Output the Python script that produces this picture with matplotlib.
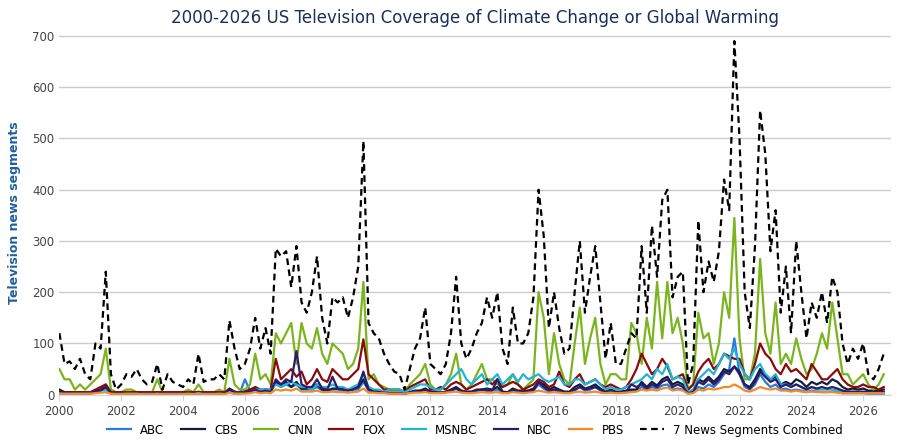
import matplotlib
matplotlib.use("Agg")
import matplotlib.pyplot as plt
import numpy as np

# bi-monthly samples, Jan 2000 .. Sep 2026
combined = [120,60,65,50,70,40, 30,100,90,240,40,10, 20,40,35,50,30,20, 25,60,10,40,25,20,
            15,30,20,80,25,30, 30,40,30,145,90,50, 60,90,150,90,130,80, 285,270,280,210,290,180,
            160,200,270,150,100,190, 180,190,150,190,250,495, 140,120,110,80,60,45, 40,10,50,90,110,170,
            60,50,40,60,120,230, 100,70,90,120,140,190, 150,200,90,60,170,100, 100,120,190,400,310,130,
            200,130,80,90,200,300, 160,230,290,180,70,140, 60,60,90,120,110,290, 160,330,230,380,400,190,
            230,240,20,60,340,200, 260,220,280,420,360,690, 500,200,130,290,555,470, 280,360,160,250,120,300,
            200,110,180,150,200,140, 230,200,100,60,90,70, 100,40,30,50,80]
cnn = [50,30,30,10,20,10, 20,30,40,90,10,5, 5,10,10,5,5,5, 5,30,5,5,5,5, 5,10,5,20,5,5, 5,10,5,70,20,10,
       10,20,80,30,40,20, 120,100,120,140,60,140, 100,90,130,80,60,100, 90,80,50,60,90,220, 30,40,20,15,10,5,
       10,5,20,30,40,60, 20,10,10,20,40,80, 20,10,20,40,60,30, 30,20,15,20,40,20, 10,20,30,200,150,40,
       120,60,30,20,100,170, 60,110,150,60,20,40, 40,30,30,140,120,60, 150,90,220,110,220,120,
       150,100,10,20,160,110, 120,60,100,200,150,345, 110,30,30,80,265,120, 80,180,60,80,60,110,
       70,40,50,80,120,90, 180,110,40,40,20,30, 40,20,10,20,40]
fox = [5,5,5,5,5,5, 5,10,15,20,5,5, 5,5,5,5,5,5, 5,5,5,5,5,5, 5,5,5,5,5,5, 5,5,5,10,5,5,
       5,10,15,10,10,10, 70,30,40,50,35,45, 20,30,50,30,25,50, 40,30,30,40,50,108, 40,30,20,10,10,10,
       10,5,15,20,25,30, 10,10,15,10,20,25, 20,10,15,20,25,30, 20,30,15,20,25,20, 10,15,20,30,25,15,
       20,45,20,15,30,40, 20,25,30,20,15,20, 15,10,15,30,50,80, 60,40,50,70,55,30, 35,40,10,20,45,60,
       70,50,60,80,75,70, 70,40,30,60,100,80, 70,50,40,60,45,50, 40,30,60,45,30,30, 40,50,30,20,15,15,
       20,15,15,10,15]
msnbc = [2,2,2,2,2,2, 2,5,8,10,2,2, 2,2,2,2,2,2, 2,2,2,2,2,2, 2,2,2,2,2,2, 2,2,2,5,2,2,
         5,5,10,10,10,10, 20,15,20,25,20,15, 15,10,20,15,15,20, 15,15,10,15,20,40, 15,10,10,5,10,10,
         10,5,10,15,20,20, 15,10,10,20,30,40, 50,30,20,30,40,20, 30,40,20,30,40,25, 40,30,35,40,30,25,
         30,35,20,20,30,30, 20,25,30,20,10,15, 10,10,15,20,25,30, 40,30,50,40,60,30, 35,30,5,10,30,40,
         50,40,60,80,70,90, 60,40,30,50,60,40, 30,40,20,20,15,20, 15,10,15,10,10,10, 10,8,5,5,5,5,
         5,5,5,5,5]
abc = [8,4,3,3,3,3, 3,8,10,20,3,2, 2,3,3,3,2,2, 2,4,2,2,2,2, 2,3,2,5,2,2, 2,3,2,10,5,3,
       30,8,10,5,8,5, 25,15,20,15,20,10, 10,10,15,8,8,10, 10,8,8,10,10,25, 8,6,5,4,3,3,
       3,2,5,6,8,10, 5,4,4,5,8,12, 6,4,5,8,10,8, 8,10,5,4,8,6, 5,6,8,20,12,6,
       10,6,4,4,8,15, 8,10,15,8,4,6, 4,4,5,8,8,15, 10,15,12,18,20,10, 12,10,3,4,15,12,
       20,15,25,40,50,110, 40,15,10,20,40,25, 15,20,10,12,8,10, 8,5,8,6,5,5, 6,5,3,3,3,3,
       3,2,2,2,2]
cbs = [10,5,5,4,5,3, 3,8,10,15,3,2, 2,4,4,5,3,2, 2,5,2,3,2,2, 2,3,2,6,2,3, 3,4,3,12,6,4,
       8,8,12,6,10,6, 25,20,25,15,25,12, 12,15,20,10,8,12, 12,12,10,12,15,30, 10,8,6,5,4,4,
       4,2,5,8,8,12, 6,5,4,6,10,15, 8,6,6,10,10,12, 10,15,6,5,12,8, 8,8,12,25,20,10,
       15,10,6,6,15,20, 12,15,20,12,6,10, 6,6,8,10,10,25, 15,25,18,30,35,20, 25,20,4,8,30,25,
       35,25,35,50,45,55, 45,20,15,30,50,40, 30,35,20,25,20,30, 25,15,25,20,25,20, 30,25,15,10,12,10,
       12,8,8,8,10]
nbc = [8,4,4,3,4,3, 3,6,8,15,3,2, 2,3,3,4,2,2, 2,4,2,2,2,2, 2,3,2,5,2,2, 2,3,2,10,5,3,
       5,6,10,5,8,5, 30,20,30,25,85,20, 15,15,30,12,10,35, 12,10,8,10,15,45, 10,6,5,4,3,3,
       3,2,4,6,6,10, 5,4,4,5,8,12, 6,5,5,8,10,8, 8,30,5,4,8,6, 5,6,8,25,15,8,
       10,8,5,5,10,15, 10,12,15,10,5,8, 5,5,6,20,15,20, 12,20,15,25,30,15, 20,15,3,5,25,20,
       30,20,30,45,40,55, 40,20,12,25,45,35, 25,30,15,20,15,20, 15,10,15,12,15,12, 15,12,8,6,6,6,
       6,5,5,5,5]
pbs = [2,2,2,2,2,2, 2,3,4,5,2,1, 1,2,2,2,1,1, 1,2,1,1,1,1, 1,2,1,3,1,1, 1,2,1,4,2,2,
       2,3,5,3,4,3, 10,8,10,8,12,6, 6,6,8,5,5,6, 5,5,4,5,6,12, 4,4,3,3,2,2,
       2,2,3,4,4,5, 3,3,3,4,5,6, 4,3,3,4,5,4, 4,5,3,3,5,4, 3,4,5,8,6,4,
       5,4,3,3,5,6, 4,5,6,4,3,4, 3,3,4,5,6,10, 8,10,8,12,14,8, 10,8,2,3,10,8,
       12,10,12,15,15,20, 15,8,6,10,15,12, 10,12,8,8,6,8, 6,5,6,5,5,5, 5,4,3,3,3,3,
       3,3,3,3,3]
series_names = ["ABC","CBS","CNN","FOX","MSNBC","NBC","PBS"]
colors = ["#2a7bd6","#0f1e3d","#7ab51d","#8b0a0a","#1fb4d8","#2e1b6b","#f28a28"]
tick_years = list(range(2000, 2027, 2))

x = 2000 + np.arange(len(combined)) / 6.0
fig, ax = plt.subplots(figsize=(9, 4.41), dpi=100)
fig.subplots_adjust(left=0.066, right=0.99, top=0.93, bottom=0.105)
for name, vals, c in zip(series_names, [abc,cbs,cnn,fox,msnbc,nbc,pbs], colors):
    ax.plot(x, vals, color=c, lw=1.6, label=name)
ax.plot(x, combined, color="black", lw=1.6, ls=(0,(3,2)), label="7 News Segments Combined")
ax.set_xlim(2000, 2026.9)
ax.set_ylim(0, 710)
ax.set_yticks(range(0, 701, 100))
ax.set_xticks(tick_years)
ax.tick_params(axis="both", length=0, labelsize=8.5, colors="#444444")
ax.tick_params(axis="x", length=4, color="#ccd6eb")
ax.grid(axis="y", color="#cccccc", lw=1)
ax.set_axisbelow(True)
for s in ["top","right","left"]:
    ax.spines[s].set_visible(False)
ax.spines["bottom"].set_color("#ccd6eb")
ax.set_ylabel("Television news segments", color="#1f5f9f", fontsize=9, fontweight="bold", labelpad=8)
ax.set_title("2000-2026 US Television Coverage of Climate Change or Global Warming", color="#1a2f5a", fontsize=12, pad=6)
ax.legend(loc="upper center", bbox_to_anchor=(0.5, -0.05), ncol=8, frameon=False, fontsize=8.5,
          handlelength=2, columnspacing=1.4)
fig.savefig("out.png")
